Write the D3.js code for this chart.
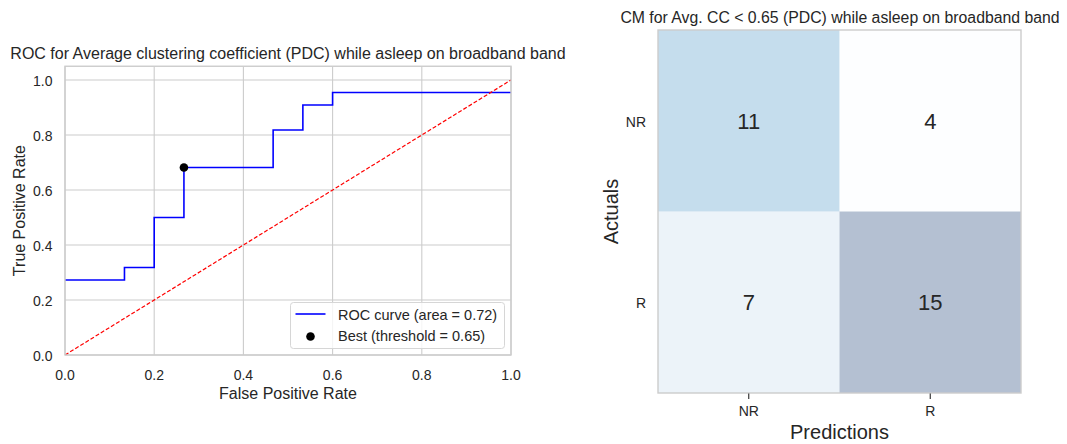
<!DOCTYPE html>
<html>
<head>
<meta charset="utf-8">
<script src="https://cdn.jsdelivr.net/npm/d3@7"></script>
<style>
  html, body { margin: 0; padding: 0; background: #fff; }
  svg { display: block; font-family: "Liberation Sans", Arial, sans-serif; }
</style>
</head>
<body>
<svg id="chart" width="1067" height="444"></svg>
<script>
// ROC curve steps (false positive rate / true positive rate)
const rocFpr = [0, 2/15, 2/15, 3/15, 3/15, 4/15, 4/15, 7/15, 7/15, 8/15, 8/15, 9/15, 9/15, 1];
const rocTpr = [6/22, 6/22, 7/22, 7/22, 11/22, 11/22, 15/22, 15/22, 18/22, 18/22, 20/22, 20/22, 21/22, 21/22];
const rocArea = 0.72;
const bestFpr = 4/15;
const bestTpr = 15/22;
const bestThreshold = 0.65;
const axisTicks = [0, 0.2, 0.4, 0.6, 0.8, 1.0];

// Confusion matrix (rows = actuals, columns = predictions)
const cmLabels = ["NR", "R"];
const cmValues = [[11, 4], [7, 15]];

const svg = d3.select("#chart");
const ink = "#262626";
const gridColor = "#cccccc";

// ---------- ROC panel ----------
const x = d3.scaleLinear().domain([0, 1]).range([65, 511]);
const y = d3.scaleLinear().domain([0, 1.05]).range([355, 66.25]);
const roc = svg.append("g");

roc.append("g").selectAll("line").data(axisTicks).join("line")
  .attr("x1", d => x(d)).attr("x2", d => x(d))
  .attr("y1", y(0)).attr("y2", y(1.05))
  .attr("stroke", gridColor).attr("stroke-width", 1.1);
roc.append("g").selectAll("line").data(axisTicks).join("line")
  .attr("y1", d => y(d)).attr("y2", d => y(d))
  .attr("x1", x(0)).attr("x2", x(1))
  .attr("stroke", gridColor).attr("stroke-width", 1.1);

const clipId = "roc-clip";
roc.append("clipPath").attr("id", clipId).append("rect")
  .attr("x", x(0)).attr("y", y(1.05)).attr("width", x(1) - x(0)).attr("height", y(0) - y(1.05));

const plotArea = roc.append("g").attr("clip-path", `url(#${clipId})`);

plotArea.append("path")
  .datum(rocFpr.map((f, i) => [f, rocTpr[i]]))
  .attr("d", d3.line().x(d => x(d[0])).y(d => y(d[1])))
  .attr("fill", "none").attr("stroke", "#0000ff").attr("stroke-width", 1.6);

plotArea.append("line")
  .attr("x1", x(0)).attr("y1", y(0)).attr("x2", x(1)).attr("y2", y(1))
  .attr("stroke", "#ff0000").attr("stroke-width", 1.2)
  .attr("stroke-dasharray", "4,2");

roc.append("circle")
  .attr("cx", x(bestFpr)).attr("cy", y(bestTpr)).attr("r", 4.3)
  .attr("fill", "#000");

roc.append("rect")
  .attr("x", x(0)).attr("y", y(1.05)).attr("width", x(1) - x(0)).attr("height", y(0) - y(1.05))
  .attr("fill", "none").attr("stroke", gridColor).attr("stroke-width", 1.4);

// tick labels
roc.append("g").selectAll("text").data(axisTicks).join("text")
  .attr("x", d => x(d)).attr("y", y(0) + 25)
  .attr("text-anchor", "middle").attr("font-size", 14).attr("fill", ink)
  .text(d => d.toFixed(1));
roc.append("g").selectAll("text").data(axisTicks).join("text")
  .attr("x", 52.5).attr("y", d => y(d) + 5.5)
  .attr("text-anchor", "end").attr("font-size", 14).attr("fill", ink)
  .text(d => d.toFixed(1));

roc.append("text")
  .attr("x", (x(0) + x(1)) / 2).attr("y", 399)
  .attr("text-anchor", "middle").attr("font-size", 16).attr("fill", ink)
  .text("False Positive Rate");
roc.append("text")
  .attr("transform", `translate(24.5,${(y(0) + y(1.05)) / 2}) rotate(-90)`)
  .attr("text-anchor", "middle").attr("font-size", 16).attr("fill", ink)
  .text("True Positive Rate");
roc.append("text")
  .attr("x", (x(0) + x(1)) / 2).attr("y", 58.5)
  .attr("text-anchor", "middle").attr("font-size", 16).attr("fill", ink)
  .text("ROC for Average clustering coefficient (PDC) while asleep on broadband band");

// legend
const lg = roc.append("g").attr("transform", "translate(290.5,302.5)");
lg.append("rect").attr("width", 214).attr("height", 46).attr("rx", 3)
  .attr("fill", "#fff").attr("fill-opacity", 0.8)
  .attr("stroke", "#d6d6d6").attr("stroke-width", 1);
lg.append("line").attr("x1", 5).attr("x2", 35).attr("y1", 11.5).attr("y2", 11.5)
  .attr("stroke", "#0000ff").attr("stroke-width", 1.6);
lg.append("circle").attr("cx", 20).attr("cy", 34).attr("r", 4.3).attr("fill", "#000");
lg.append("text").attr("x", 47.5).attr("y", 17).attr("font-size", 14.5).attr("fill", ink)
  .text(`ROC curve (area = ${rocArea.toFixed(2)})`);
lg.append("text").attr("x", 47.5).attr("y", 38.5).attr("font-size", 14.5).attr("fill", ink)
  .text(`Best (threshold = ${bestThreshold.toFixed(2)})`);

// ---------- Confusion matrix panel ----------
const cx = d3.scaleBand().domain(cmLabels).range([658, 1021]);
const cy = d3.scaleBand().domain(cmLabels).range([30, 393]);
const flat = cmValues.flatMap((row, i) => row.map((v, j) => ({ actual: cmLabels[i], pred: cmLabels[j], v })));
const [vmin, vmax] = d3.extent(flat, d => d.v);
const bluesStops = ["#f7fbff", "#deebf7", "#c6dbef", "#9ecae1", "#6baed6", "#4292c6", "#2171b5", "#08519c", "#08306b"];
const blues = d3.scaleLinear()
  .domain(bluesStops.map((_, i) => i / (bluesStops.length - 1)))
  .range(bluesStops).interpolate(d3.interpolateRgb);
const color = v => blues((v - vmin) / (vmax - vmin));

const cm = svg.append("g");
cm.selectAll("rect.cell").data(flat).join("rect").attr("class", "cell")
  .attr("x", d => cx(d.pred)).attr("y", d => cy(d.actual))
  .attr("width", cx.bandwidth()).attr("height", cy.bandwidth())
  .attr("fill", d => color(d.v)).attr("fill-opacity", 0.3);
cm.selectAll("text.val").data(flat).join("text").attr("class", "val")
  .attr("x", d => cx(d.pred) + cx.bandwidth() / 2)
  .attr("y", d => cy(d.actual) + cy.bandwidth() / 2 + 7.8)
  .attr("text-anchor", "middle").attr("font-size", 22).attr("fill", ink)
  .text(d => d.v);
cm.append("rect")
  .attr("x", cx.range()[0]).attr("y", cy.range()[0])
  .attr("width", cx.range()[1] - cx.range()[0]).attr("height", cy.range()[1] - cy.range()[0])
  .attr("fill", "none").attr("stroke", gridColor).attr("stroke-width", 1.4);

cm.selectAll("line.xt").data(cmLabels).join("line").attr("class", "xt")
  .attr("x1", d => cx(d) + cx.bandwidth() / 2).attr("x2", d => cx(d) + cx.bandwidth() / 2)
  .attr("y1", 393.5).attr("y2", 399).attr("stroke", ink).attr("stroke-width", 1.1);
cm.selectAll("text.xl").data(cmLabels).join("text").attr("class", "xl")
  .attr("x", d => cx(d) + cx.bandwidth() / 2).attr("y", 416)
  .attr("text-anchor", "middle").attr("font-size", 14).attr("fill", ink).text(d => d);
cm.selectAll("text.yl").data(cmLabels).join("text").attr("class", "yl")
  .attr("x", 646).attr("y", d => cy(d) + cy.bandwidth() / 2 + 6)
  .attr("text-anchor", "end").attr("font-size", 14).attr("fill", ink).text(d => d);

cm.append("text")
  .attr("x", (cx.range()[0] + cx.range()[1]) / 2).attr("y", 439)
  .attr("text-anchor", "middle").attr("font-size", 20).attr("fill", ink)
  .text("Predictions");
cm.append("text")
  .attr("transform", `translate(618,${(cy.range()[0] + cy.range()[1]) / 2}) rotate(-90)`)
  .attr("text-anchor", "middle").attr("font-size", 20).attr("fill", ink)
  .text("Actuals");
cm.append("text")
  .attr("x", 840).attr("y", 23)
  .attr("text-anchor", "middle").attr("font-size", 15.8).attr("fill", ink)
  .text("CM for Avg. CC < 0.65 (PDC) while asleep on broadband band");
</script>
</body>
</html>
